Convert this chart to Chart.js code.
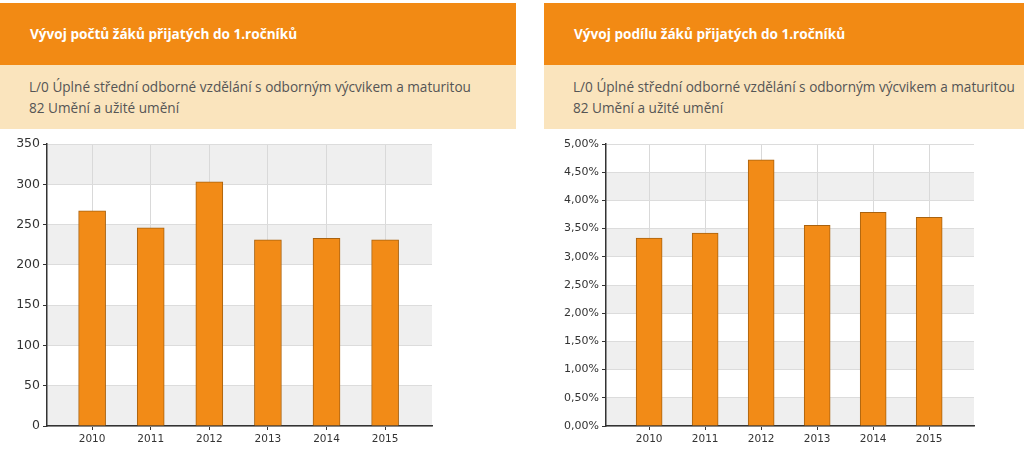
<!DOCTYPE html>
<html lang="cs">
<head>
<meta charset="utf-8">
<title>Vývoj žáků přijatých do 1.ročníků</title>
<script src="https://cdn.jsdelivr.net/npm/chart.js@4"></script>
<style>
    body { margin: 0; background: #fff; width: 1024px; height: 468px; position: relative; overflow: hidden; }
    .panel { position: absolute; top: 3px; }
    .panel-head { height: 62px; background: #f28a14; color: #fff; font: 700 13.6px 'Open Sans', sans-serif; line-height: 62px; padding-left: 30px; box-sizing: border-box; }
    .panel-sub { height: 64px; background: #fae4bd; color: #555; font: 13.6px 'Open Sans', sans-serif; line-height: 21px; padding: 11px 0 0 29px; box-sizing: border-box; }
    .chart-box { position: absolute; top: 130px; height: 338px; }
</style>
</head>
<body>
<div class="panel" style="left:0;width:516px">
    <div class="panel-head">Vývoj počtů žáků přijatých do 1.ročníků</div>
    <div class="panel-sub">L/0 Úplné střední odborné vzdělání s odborným výcvikem a maturitou<br>82 Umění a užité umění</div>
</div>
<div class="panel" style="left:544px;width:480px">
    <div class="panel-head">Vývoj podílu žáků přijatých do 1.ročníků</div>
    <div class="panel-sub">L/0 Úplné střední odborné vzdělání s odborným výcvikem a maturitou<br>82 Umění a užité umění</div>
</div>
<div class="chart-box" style="left:0;width:516px"><canvas id="count-chart"></canvas></div>
<div class="chart-box" style="left:544px;width:480px"><canvas id="share-chart"></canvas></div>
<script>
const years = [2010, 2011, 2012, 2013, 2014, 2015];
const studentCounts = [267, 246, 303, 231, 233, 231];
const studentShares = [3.33, 3.42, 4.72, 3.56, 3.79, 3.70];
const countTicks = [0, 50, 100, 150, 200, 250, 300, 350];
const shareTicks = [0, 0.5, 1, 1.5, 2, 2.5, 3, 3.5, 4, 4.5, 5];

// alternating grey bands behind the grid
const stripes = {
    id: 'stripes',
    beforeDraw(chart) {
        const { ctx, chartArea, scales } = chart;
        const ticks = scales.y.ticks;
        ctx.save();
        ctx.fillStyle = '#efefef';
        for (let i = 0; i < ticks.length - 1; i += 2) {
            const bottom = scales.y.getPixelForValue(ticks[i].value);
            const top = scales.y.getPixelForValue(ticks[i + 1].value);
            ctx.fillRect(chartArea.left, top, chartArea.right - chartArea.left, bottom - top);
        }
        ctx.restore();
    },
};

const createBarChart = (canvas, values, yTicks, opts) => new Chart(canvas, {
    type: 'bar',
    data: {
        datasets: [{
            data: years.map((year, i) => ({ x: year, y: values[i] })),
            backgroundColor: '#f28b17',
            borderColor: '#a9620f',
            borderWidth: 1,
            borderSkipped: 'bottom',
            barThickness: opts.barWidth,
        }],
    },
    options: {
        responsive: true,
        maintainAspectRatio: false,
        animation: false,
        layout: {
            padding: { top: 14, right: opts.padRight, bottom: 20, left: 0 },
        },
        plugins: {
            legend: { display: false },
            tooltip: { enabled: false },
        },
        scales: {
            x: {
                type: 'linear',
                bounds: 'data',
                offset: false,
                min: years[0] - 0.77,
                max: years[years.length - 1] + 0.8,
                afterBuildTicks: (axis) => { axis.ticks = years.map((value) => ({ value })); },
                afterFit: (axis) => { axis.height = 22; },
                grid: { offset: false, color: '#d9d9d9', tickColor: '#333', tickLength: 4 },
                border: { color: '#333', width: 1.5 },
                ticks: {
                    color: '#333',
                    padding: 3,
                    maxRotation: 0,
                    font: { family: 'DejaVu Sans', size: 10.5 },
                    callback: (value) => String(value),
                },
            },
            y: {
                min: yTicks[0],
                max: yTicks[yTicks.length - 1],
                afterBuildTicks: (axis) => { axis.ticks = yTicks.map((value) => ({ value })); },
                afterFit: (axis) => { axis.width = opts.axisWidth; },
                grid: { color: '#dcdcdc', tickColor: '#333', tickLength: 4 },
                border: { color: '#333', width: 1.5 },
                ticks: {
                    color: '#333',
                    padding: 3,
                    font: { family: 'DejaVu Sans', size: opts.yFontSize },
                    callback: opts.format,
                },
            },
        },
    },
    plugins: [stripes],
});

document.addEventListener('DOMContentLoaded', () => {
    createBarChart(document.getElementById('count-chart'), studentCounts, countTicks, {
        barWidth: 27,
        padRight: 84,
        axisWidth: 47,
        yFontSize: 12.5,
        format: (value) => String(value),
    });

    createBarChart(document.getElementById('share-chart'), studentShares, shareTicks, {
        barWidth: 26,
        padRight: 50,
        axisWidth: 62,
        yFontSize: 11,
        format: (value) => value.toFixed(2).replace('.', ',') + '%',
    });
});
</script>
</body>
</html>
